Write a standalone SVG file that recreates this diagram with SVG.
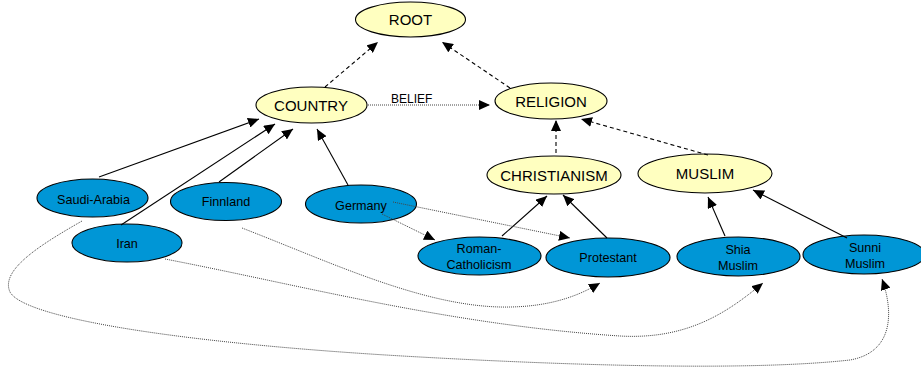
<svg xmlns="http://www.w3.org/2000/svg" width="921" height="371" viewBox="0 0 921 371">
<style>
.y{fill:#ffffc0;stroke:#000;stroke-width:1.1}
.b{fill:#0096d6;stroke:#000;stroke-width:1.1}
.ty{font-family:"Liberation Sans",Arial,sans-serif;font-size:15px;fill:#000;text-anchor:middle}
.tb{font-family:"Liberation Sans",Arial,sans-serif;font-size:12.6px;fill:#000;text-anchor:middle}
.lbl{font-family:"Liberation Sans",Arial,sans-serif;font-size:12px;fill:#000}
.solid{fill:none;stroke:#000;stroke-width:1.1;marker-end:url(#ah)}
.dash{fill:none;stroke:#000;stroke-width:1.1;stroke-dasharray:4 3;marker-end:url(#ah)}
.dot{fill:none;stroke:#444;stroke-width:1;stroke-dasharray:1 1;marker-end:url(#ah)}
</style>
<defs>
<marker id="ah" markerUnits="userSpaceOnUse" markerWidth="11" markerHeight="10" refX="11" refY="5" orient="auto" viewBox="0 0 11 10">
<path d="M0,0 L11,5 L0,10 z" fill="#000"/>
</marker>
</defs>

<g id="ROOT"><ellipse class="y" cx="410.5" cy="19.5" rx="55" ry="17.5"/><text class="ty" x="410.5" y="25">ROOT</text></g>
<g id="COUNTRY"><ellipse class="y" cx="311.5" cy="105" rx="55.5" ry="18"/><text class="ty" x="311" y="110.5">COUNTRY</text></g>
<g id="RELIGION"><ellipse class="y" cx="551" cy="101" rx="56" ry="18"/><text class="ty" x="551" y="106.5">RELIGION</text></g>
<g id="CHRISTIANISM"><ellipse class="y" cx="554" cy="175" rx="67" ry="19"/><text class="ty" x="554" y="180.5">CHRISTIANISM</text></g>
<g id="MUSLIM"><ellipse class="y" cx="705" cy="173.5" rx="67" ry="19.5"/><text class="ty" x="705" y="179">MUSLIM</text></g>

<g id="Saudi-Arabia"><ellipse class="b" cx="92.5" cy="198" rx="55.5" ry="19"/><text class="tb" x="93.5" y="203.5">Saudi-Arabia</text></g>
<g id="Iran"><ellipse class="b" cx="127" cy="243" rx="55" ry="19"/><text class="tb" x="127" y="247.5">Iran</text></g>
<g id="Finnland"><ellipse class="b" cx="226" cy="201.5" rx="55.5" ry="19"/><text class="tb" x="226" y="206">Finnland</text></g>
<g id="Germany"><ellipse class="b" cx="361" cy="204" rx="55.5" ry="19"/><text class="tb" x="361" y="209.5">Germany</text></g>
<g id="Roman-Catholicism"><ellipse class="b" cx="479.5" cy="256" rx="61.5" ry="19"/><text class="tb" x="479" y="252.5">Roman-</text><text class="tb" x="479" y="268.5">Catholicism</text></g>
<g id="Protestant"><ellipse class="b" cx="608" cy="257.5" rx="62" ry="19.5"/><text class="tb" x="608" y="262">Protestant</text></g>
<g id="Shia-Muslim"><ellipse class="b" cx="738.5" cy="256.5" rx="61.5" ry="19.5"/><text class="tb" x="738" y="253.5">Shia</text><text class="tb" x="738" y="269.5">Muslim</text></g>
<g id="Sunni-Muslim"><ellipse class="b" cx="864" cy="254.5" rx="61" ry="19.5"/><text class="tb" x="865" y="251.5">Sunni</text><text class="tb" x="865" y="267.5">Muslim</text></g>

<g id="connectors">
<path class="dash" d="M325,87 L378,42"/>
<path class="dash" d="M510,88 L442,42"/>
<path class="dash" d="M556,153 L556,120"/>
<path class="dash" d="M708,155 L581,119"/>
<path class="dot" d="M368,105 L490,105"/>
<text class="lbl" x="391" y="103">BELIEF</text>
<path class="solid" d="M99,177 L259,119"/>
<path class="solid" d="M121,225 L275,124"/>
<path class="solid" d="M219,182 L293,129"/>
<path class="solid" d="M348,185 L317,129"/>
<path class="solid" d="M502,236 L547,196"/>
<path class="solid" d="M607,238 L563,195"/>
<path class="solid" d="M725,236 L708,197"/>
<path class="solid" d="M847,238 L753,190"/>
<path class="dot" d="M382,214 L435,240"/>
<path class="dot" d="M393,202 L570,238"/>
<path class="dot" d="M242,228 C330,262 420,305 500,307 C550,308 580,295 600,283"/>
<path class="dot" d="M165,259 C300,285 450,325 620,336 C690,340 730,310 763,283"/>
<path class="dot" d="M82,221 C40,245 0,270 10,292 C25,320 200,345 420,357 C600,367 760,370 850,360 C895,352 893,310 882,279"/>
</g>
</svg>
